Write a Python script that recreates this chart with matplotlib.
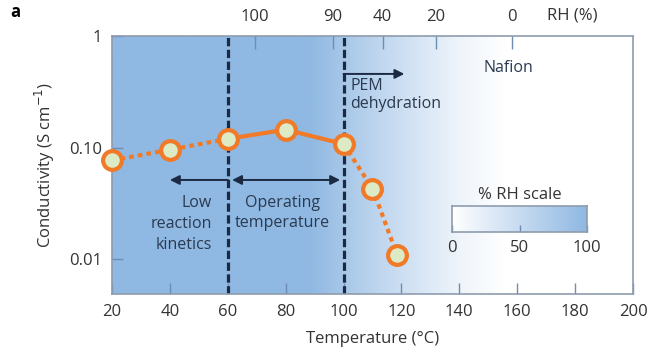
import numpy as np
import matplotlib
matplotlib.use("Agg")
import matplotlib.pyplot as plt
from matplotlib.colors import LinearSegmentedColormap

# ---- data ----
temp_dotted_low = [20, 40, 60]
cond_dotted_low = [0.077, 0.096, 0.12]
temp_solid = [60, 80, 100]
cond_solid = [0.12, 0.145, 0.108]
temp_dotted_high = [100, 110, 118.5]
cond_dotted_high = [0.108, 0.043, 0.011]

x_ticks = [20, 40, 60, 80, 100, 120, 140, 160, 180, 200]
y_ticks = [0.01, 0.10, 1]
y_ticklabels = ["0.01", "0.10", "1"]
rh_tick_temps = [69.5, 96.2, 113.5, 131.9, 158.2]
rh_tick_labels = ["100", "90", "40", "20", "0"]
scale_ticks = [0, 50, 100]

# background shading stops (temperature -> blue intensity)
bg_stop_T = [20, 88, 100, 120, 140, 156]
bg_stop_v = [1.0, 1.0, 0.78, 0.45, 0.15, 0.0]

plt.rcParams['font.family'] = ['Open Sans', 'DejaVu Sans']

W, H = 653, 352
fig = plt.figure(figsize=(W / 100, H / 100), dpi=100)
L, R, B, T = 112, 633, 294, 36
ax = fig.add_axes([L / W, 1 - B / H, (R - L) / W, (B - T) / H])

blue = np.array([143, 184, 226]) / 255.0
cmap = LinearSegmentedColormap.from_list("rh", [(1, 1, 1), tuple(blue)])

tx = np.linspace(20, 200, 600)
bg = np.interp(tx, bg_stop_T, bg_stop_v)
ax.imshow(bg[np.newaxis, :], cmap=cmap, vmin=0, vmax=1, aspect='auto',
          extent=[20, 200, 0, 1], transform=ax.get_xaxis_transform(), zorder=0,
          interpolation='bilinear')

ax.set_yscale('log')
ax.set_xlim(20, 200)
ax.set_ylim(0.0049, 1)

orange = '#f07a28'
face = '#dcebc6'
ax.plot(temp_dotted_low, cond_dotted_low, color=orange, lw=3, dashes=(1.1, 1.0), zorder=3)
ax.plot(temp_solid, cond_solid, color=orange, lw=3, zorder=3)
ax.plot(temp_dotted_high, cond_dotted_high, color=orange, lw=3, dashes=(1.1, 1.0), zorder=3)
allT = temp_dotted_low + temp_solid[1:] + temp_dotted_high[1:]
allC = cond_dotted_low + cond_solid[1:] + cond_dotted_high[1:]
ax.plot(allT, allC, 'o', ms=13.5, mfc=face, mec=orange, mew=3.0, ls='none', zorder=4,
        clip_on=False)

navy = '#1b2a42'
for xv in (60, 100):
    ax.axvline(xv, color=navy, lw=2.3, dashes=(2.6, 1.1), zorder=2)

# arrows
arr = dict(arrowstyle='-|>', color=navy, lw=1.4, mutation_scale=14, shrinkA=0, shrinkB=0)
yc = ('data', 'axes fraction')
ax.annotate('', xy=(40, 0.442), xytext=(60, 0.442), xycoords=yc, textcoords=yc, arrowprops=arr)
ax.annotate('', xy=(61.5, 0.442), xytext=(80, 0.442), xycoords=yc, textcoords=yc, arrowprops=arr)
ax.annotate('', xy=(98.8, 0.442), xytext=(80, 0.442), xycoords=yc, textcoords=yc, arrowprops=arr)
ax.annotate('', xy=(121, 0.853), xytext=(100, 0.853), xycoords=yc, textcoords=yc, arrowprops=arr)

tc = '#2a3a50'
tr = ax.get_xaxis_transform()
ax.text(54.6, 0.271, "Low\nreaction\nkinetics", transform=tr, ha='right', va='center',
        multialignment='right', fontsize=11.5, color=tc, linespacing=1.4)
ax.text(78.9, 0.314, "Operating\ntemperature", transform=tr, ha='center', va='center',
        fontsize=11.5, color=tc, linespacing=1.4)
ax.text(102.4, 0.771, "PEM\ndehydration", transform=tr, ha='left', va='center',
        fontsize=11.5, color=tc, linespacing=1.1)
ax.text(156.8, 0.876, "Nafion", transform=tr, ha='center', va='center',
        fontsize=11.5, color=tc)

spine_c = '#8f9cae'
tick_c = '#6f8db0'
for s in ax.spines.values():
    s.set_color(spine_c)
    s.set_linewidth(1.2)
ax.set_xticks(x_ticks)
ax.set_xticklabels([str(v) for v in x_ticks])
ax.set_yticks(y_ticks)
ax.set_yticklabels(y_ticklabels)
ax.minorticks_off()
ax.tick_params(axis='both', direction='in', length=8, width=1, color=tick_c,
               labelsize=12, labelcolor='#333333', pad=7)
ax.set_xlabel("Temperature (°C)", fontsize=12, color='#333333', labelpad=8)
ax.set_ylabel("Conductivity (S cm$^{-1}$)", fontsize=12, color='#333333', labelpad=9)

# top RH axis
ax2 = ax.twiny()
ax2.set_xlim(20, 200)
ax2.set_xticks(rh_tick_temps)
ax2.set_xticklabels(rh_tick_labels)
ax2.tick_params(axis='x', direction='in', length=9, width=1, color=tick_c,
                labelsize=12, labelcolor='#333333', pad=8)
for s in ax2.spines.values():
    s.set_visible(False)
ax2.text(179, 1.0 + 12 / 258, "RH (%)", transform=ax2.get_xaxis_transform(), fontsize=12,
         color='#333333', ha='center', va='bottom')

# RH scale bar
sx0, sx1, sy0, sy1 = 452, 587, 206, 232
cax = fig.add_axes([sx0 / W, 1 - sy1 / H, (sx1 - sx0) / W, (sy1 - sy0) / H])
grad = np.linspace(0, 1, 256)[np.newaxis, :]
cax.imshow(grad, cmap=cmap, aspect='auto', extent=[0, 100, 0, 1])
cax.set_xlim(0, 100)
cax.set_ylim(0, 1)
cax.set_yticks([])
cax.set_xticks(scale_ticks)
cax.set_xticklabels([str(v) for v in scale_ticks])
cax.tick_params(axis='x', direction='in', length=5, width=1, color=tick_c,
                labelsize=12, labelcolor='#333333', pad=6)
for s in cax.spines.values():
    s.set_color(spine_c)
    s.set_linewidth(1.2)
cax.set_title("% RH scale", fontsize=12, color='#333333', pad=5)

fig.text(10 / W, 1 - 12 / H, "a", fontsize=12, fontweight='bold', ha='left', va='center')

fig.savefig("out.png", dpi=100)
